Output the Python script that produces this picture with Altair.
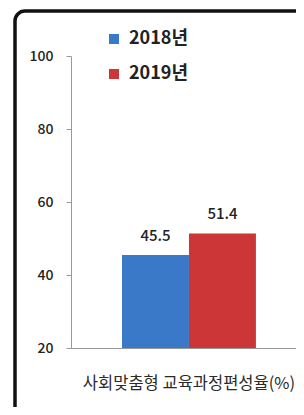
import altair as alt
import pandas as pd

categories = ["사회맞춤형 교육과정편성율(%)"]
years = ["2018년", "2019년"]
values = [45.5, 51.4]
colors = ["#3A78C8", "#CC3636"]
y_ticks = [20, 40, 60, 80, 100]

df = pd.DataFrame({
    "category": [categories[0]] * len(years),
    "year": years,
    "value": values,
})

FONT = "Noto Sans CJK KR"
FRAME = "#111111"
FW = 3.5

x_enc = alt.X(
    "category:N",
    scale=alt.Scale(paddingOuter=0.34, paddingInner=0, align=0.56),
    axis=alt.Axis(
        title=None, ticks=False, labelAngle=0, labelFontSize=16.5,
        labelColor="#2a2a2a", labelPadding=27, domainColor="#999",
        labelFont=FONT, labelLimit=400,
    ),
)
xoff_enc = alt.XOffset(
    "year:N", scale=alt.Scale(paddingInner=0, paddingOuter=0, domain=years)
)
y_enc = alt.Y(
    "value:Q",
    scale=alt.Scale(domain=[20, 100], zero=False),
    axis=alt.Axis(
        title=None, values=y_ticks, grid=False, tickSize=5,
        tickColor="#999", domainColor="#999", labelFontSize=14,
        labelColor="#222", labelPadding=13, labelFont=FONT,
        labelFontWeight=500,
    ),
)

one = pd.DataFrame({"f": [0]})
frame_top = alt.Chart(one).mark_rule(color=FRAME, strokeWidth=FW).encode(
    x=alt.value(-46), x2=alt.value(1000), y=alt.value(-45)
)
frame_left = alt.Chart(one).mark_rule(color=FRAME, strokeWidth=FW).encode(
    x=alt.value(-56), y=alt.value(-35), y2=alt.value(1000)
)
frame_corner = alt.Chart(one).mark_arc(
    color=FRAME, theta=4.712389, theta2=6.283185,
    radius=10 + FW / 2, radius2=10 - FW / 2,
).encode(x=alt.value(-46), y=alt.value(-35))

bars = alt.Chart(df).mark_bar(clip=True).encode(
    x=x_enc, xOffset=xoff_enc, y=y_enc,
    color=alt.Color(
        "year:N",
        scale=alt.Scale(domain=years, range=colors),
        legend=alt.Legend(
            title=None, orient="none", legendX=34, legendY=-26,
            symbolType="square", symbolSize=100, symbolStrokeWidth=0,
            labelFontSize=18, labelFontWeight="bold", labelColor="#222",
            labelFont=FONT, rowPadding=17, symbolOpacity=1, labelOffset=6,
        ),
    ),
)

labels = alt.Chart(df).mark_text(
    baseline="alphabetic", dy=-14, fontSize=15, color="#222", font=FONT,
    fontWeight=500,
).encode(
    x=x_enc, xOffset=xoff_enc, y=y_enc, text=alt.Text("value:Q", format=".1f"),
)

chart = alt.layer(frame_top, frame_left, frame_corner, bars, labels).properties(
    width=225, height=292,
    autosize=alt.AutoSizeParams(type="none"),
    padding={"left": 63, "top": 48, "right": 0, "bottom": 59},
).configure_view(stroke=None)

chart.save("out.html", embed_options={"renderer": "svg", "actions": False})
